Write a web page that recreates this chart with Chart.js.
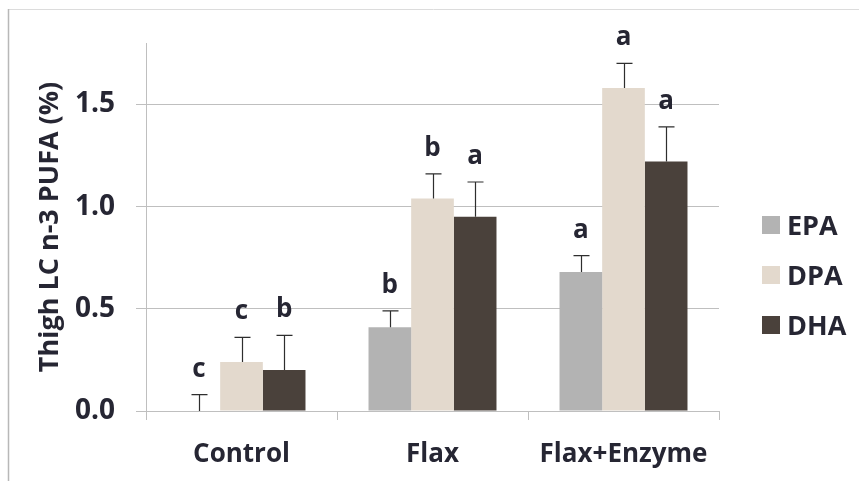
<!DOCTYPE html>
<html>
<head>
<meta charset="utf-8">
<script src="https://cdn.jsdelivr.net/npm/chart.js@4.4.1/dist/chart.umd.min.js"></script>
<style>
  html, body { margin: 0; padding: 0; background: #ffffff; }
  #wrap { width: 859px; height: 481px; position: relative; }
</style>
</head>
<body>
<div id="wrap"><canvas id="c" width="859" height="481"></canvas></div>
<script>
// Treatments and fatty-acid series (thigh meat, % of total fatty acids)
const categories = ['Control', 'Flax', 'Flax+Enzyme'];
const seriesNames = ['EPA', 'DPA', 'DHA'];
const epaValues = [0.00, 0.41, 0.68];
const dpaValues = [0.24, 1.04, 1.58];
const dhaValues = [0.20, 0.95, 1.22];
const epaSD = [0.08, 0.08, 0.08];
const dpaSD = [0.12, 0.12, 0.12];
const dhaSD = [0.17, 0.17, 0.17];
const epaLetters = ['c', 'b', 'a'];
const dpaLetters = ['c', 'b', 'a'];
const dhaLetters = ['b', 'a', 'a'];
const yTicks = [0, 0.5, 1.0, 1.5];
const yMax = 1.8;

const colors = ['#b3b3b3', '#e3d9cd', '#4a413b'];
const textColor = '#262633';
const gridColor = '#bfbfbf';
const FONT = "'Open Sans', 'DejaVu Sans', sans-serif";

const sdSets = [epaSD, dpaSD, dhaSD];
const letterSets = [epaLetters, dpaLetters, dhaLetters];

// Light frame around the figure
const framePlugin = {
  id: 'frame',
  beforeDraw(chart) {
    const ctx = chart.ctx;
    ctx.save();
    ctx.fillStyle = '#ffffff';
    ctx.fillRect(0, 0, chart.width, chart.height);
    ctx.strokeStyle = '#dcdcdc';
    ctx.lineWidth = 1;
    ctx.beginPath();
    ctx.moveTo(8, 9.5);
    ctx.lineTo(chart.width, 9.5);
    ctx.stroke();
    ctx.strokeStyle = '#b8b8b8';
    ctx.lineWidth = 1.5;
    ctx.beginPath();
    ctx.moveTo(8.5, 9);
    ctx.lineTo(8.5, chart.height);
    ctx.stroke();
    ctx.restore();
  }
};

// Upward error bars and significance letters
const errorPlugin = {
  id: 'errorBars',
  afterDatasetsDraw(chart) {
    const ctx = chart.ctx;
    const y = chart.scales.y;
    ctx.save();
    chart.data.datasets.forEach((ds, di) => {
      const meta = chart.getDatasetMeta(di);
      meta.data.forEach((bar, i) => {
        const v = ds.data[i];
        const top = y.getPixelForValue(v + sdSets[di][i]);
        const base = y.getPixelForValue(v);
        const x = Math.round(bar.x) + 0.5;
        ctx.strokeStyle = '#2e2e2e';
        ctx.lineWidth = 1.2;
        ctx.beginPath();
        ctx.moveTo(x, base);
        ctx.lineTo(x, top);
        ctx.moveTo(x - 8, top);
        ctx.lineTo(x + 8, top);
        ctx.stroke();
        ctx.fillStyle = textColor;
        ctx.font = 'bold 26px ' + FONT;
        ctx.textAlign = 'center';
        ctx.textBaseline = 'alphabetic';
        ctx.fillText(letterSets[di][i], bar.x, top - 18);
      });
    });
    ctx.restore();
  }
};

// Legend at the right
const legendPlugin = {
  id: 'sideLegend',
  afterDraw(chart) {
    const ctx = chart.ctx;
    ctx.save();
    chart.data.datasets.forEach((ds, i) => {
      const cy = 225 + i * 50;
      ctx.fillStyle = ds.backgroundColor;
      ctx.fillRect(762, cy - 9, 18, 18);
      ctx.fillStyle = textColor;
      ctx.font = 'bold 27px ' + FONT;
      ctx.textAlign = 'left';
      ctx.textBaseline = 'middle';
      ctx.fillText(ds.label, 787, cy + 2);
    });
    ctx.restore();
  }
};

new Chart(document.getElementById('c'), {
  type: 'bar',
  data: {
    labels: categories,
    datasets: [
      { label: seriesNames[0], data: epaValues, backgroundColor: colors[0] },
      { label: seriesNames[1], data: dpaValues, backgroundColor: colors[1] },
      { label: seriesNames[2], data: dhaValues, backgroundColor: colors[2] }
    ]
  },
  options: {
    responsive: false,
    animation: false,
    layout: { padding: { top: 43, right: 140, left: 0, bottom: 0 } },
    datasets: { bar: { barPercentage: 1.0, categoryPercentage: 0.67 } },
    plugins: { legend: { display: false }, tooltip: { enabled: false } },
    scales: {
      x: {
        grid: {
          offset: true,
          drawOnChartArea: false,
          drawTicks: true,
          tickLength: 9,
          color: gridColor
        },
        border: { display: true, color: gridColor },
        ticks: {
          color: textColor,
          font: { family: FONT, size: 26, weight: 'bold' },
          padding: 19,
          maxRotation: 0
        },
        afterFit(scale) { scale.height = 70; }
      },
      y: {
        min: 0,
        max: yMax,
        afterBuildTicks(scale) { scale.ticks = yTicks.map(v => ({ value: v })); },
        grid: { color: gridColor, tickLength: 10, drawTicks: true },
        border: { display: true, color: gridColor },
        ticks: {
          color: textColor,
          font: { family: FONT, size: 28, weight: 'bold' },
          padding: 21,
          callback: v => Number(v).toFixed(1)
        },
        title: {
          display: true,
          text: 'Thigh LC n-3 PUFA (%)',
          color: textColor,
          font: { family: FONT, size: 27, weight: 'bold' },
          padding: { top: 34, bottom: 0 }
        },
        afterFit(scale) { scale.width = 146; }
      }
    }
  },
  plugins: [framePlugin, errorPlugin, legendPlugin]
});
</script>
</body>
</html>
